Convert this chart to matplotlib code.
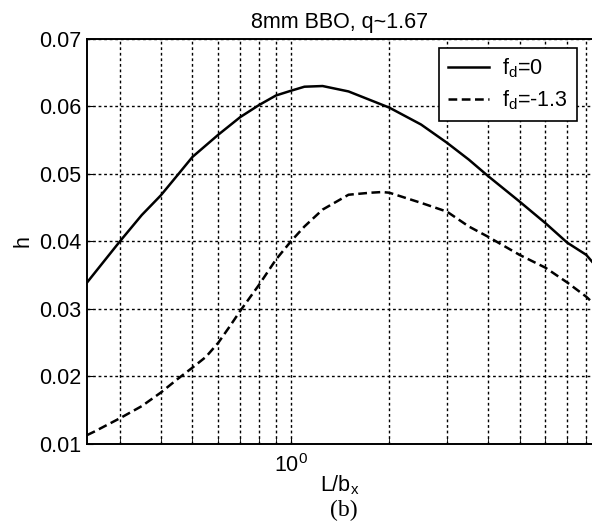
import matplotlib
matplotlib.use('Agg')
import matplotlib.pyplot as plt
from matplotlib.ticker import NullFormatter, LogLocator

plt.rcParams['font.family'] = ['Liberation Sans', 'DejaVu Sans']

# values
x_solid = [0.238, 0.25, 0.3, 0.35, 0.4, 0.45, 0.5, 0.6, 0.7, 0.8, 0.9, 1.0, 1.1, 1.25, 1.5,
           2.0, 2.5, 3.0, 3.5, 4.0, 5.0, 6.0, 7.0, 8.0, 8.33]
h_solid = [0.0339, 0.0352, 0.0400, 0.0439, 0.0468, 0.0498, 0.0525, 0.0558, 0.0584, 0.0602,
           0.0616, 0.0623, 0.0629, 0.0630, 0.0622, 0.0598, 0.0573, 0.0546, 0.0521, 0.0497,
           0.0459, 0.0427, 0.0398, 0.0380, 0.0370]

x_dash = [0.238, 0.25, 0.3, 0.35, 0.4, 0.45, 0.5, 0.55, 0.6, 0.65, 0.7, 0.8, 0.9, 1.0, 1.1,
          1.25, 1.5, 1.75, 1.9, 2.0, 2.5, 3.0, 3.5, 4.0, 5.0, 6.0, 7.0, 8.0, 8.33]
h_dash = [0.0113, 0.0118, 0.0138, 0.0156, 0.0176, 0.0196, 0.0213, 0.0229, 0.0250, 0.0274,
          0.0297, 0.0336, 0.0373, 0.0400, 0.0422, 0.0447, 0.0469, 0.0472, 0.0473, 0.0472,
          0.0457, 0.0444, 0.0422, 0.0407, 0.0380, 0.0361, 0.0339, 0.0318, 0.0310]

labels = ['f$_\\mathregular{d}$=0', 'f$_\\mathregular{d}$=-1.3']

fig = plt.figure(figsize=(5.92, 5.31), dpi=100)
ax = fig.add_axes([0.147, 0.164, 0.853, 0.763])

ax.plot(x_solid, h_solid, color='black', lw=1.8, label=labels[0])
ax.plot(x_dash, h_dash, color='black', lw=1.8, linestyle=(0, (3.5, 1.8)), label=labels[1])

ax.set_xscale('log')
ax.set_xlim(0.238, 8.33)
ax.set_ylim(0.01, 0.07)
ax.set_yticks([0.01, 0.02, 0.03, 0.04, 0.05, 0.06, 0.07])
ax.xaxis.set_major_locator(LogLocator(base=10, numticks=10))
ax.xaxis.set_minor_locator(LogLocator(base=10, subs=range(2, 10), numticks=20))
ax.xaxis.set_minor_formatter(NullFormatter())

ax.grid(True, which='both', color='black', linestyle=(0, (2, 2)), lw=1.0)
ax.tick_params(which='both', direction='in', labelsize=15.5, length=4)
ax.tick_params(axis='x', pad=7)
ax.tick_params(axis='y', pad=4)
for side in ['left', 'bottom', 'top']:
	ax.spines[side].set_linewidth(1.4)
ax.spines['right'].set_visible(False)

ax.set_title('8mm BBO, q~1.67', fontsize=15.5, pad=8)
ax.set_ylabel('h', fontsize=15.5, labelpad=4)
ax.set_xlabel('L/b$_\\mathregular{x}$', fontsize=15.5, labelpad=-2)
fig.text(0.58, 0.038, '(b)', fontsize=17, family='Liberation Serif', ha='center', va='center')

leg = ax.legend(loc='upper left', bbox_to_anchor=(0.697, 0.978), fontsize=15.5, fancybox=False,
                framealpha=1, edgecolor='black', handlelength=1.9, handletextpad=0.65,
                borderaxespad=0, labelspacing=0.4, borderpad=0.4)
leg.get_frame().set_linewidth(1.2)

fig.savefig('out.png', dpi=100)
